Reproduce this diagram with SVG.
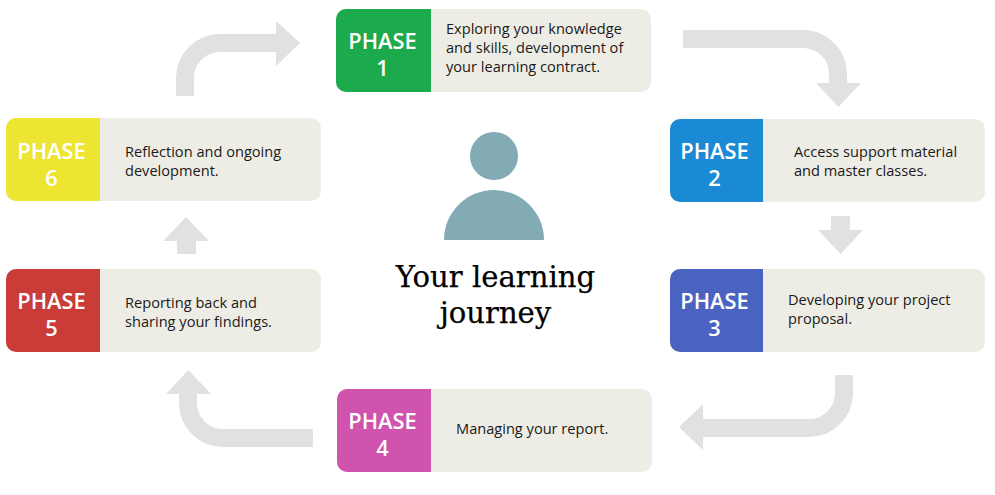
<svg xmlns="http://www.w3.org/2000/svg" width="995" height="495" viewBox="0 0 995 495">
<style>
.panel{fill:#eeede5}
.ph{font-family:"Open Sans","Noto Sans",sans-serif;font-weight:600;font-size:21.8px;fill:#fff;text-anchor:middle}
.body{font-family:"Open Sans","Noto Sans",sans-serif;font-size:14.6px;fill:#1a1a1a}
.title{font-family:"DejaVu Serif",serif;font-size:29.1px;fill:#000;text-anchor:middle;stroke:#000;stroke-width:.25px}
.line{fill:none;stroke:#e1e1e0;stroke-width:18}
.head{fill:#e1e1e0}
.person{fill:#82abb5}
</style>
<rect width="995" height="495" fill="#fff"/>
<g id="connectors">
<path class="line" d="M683 39H803A35 35 0 0 1 838 74V84"/><polygon class="head" points="816,83 861,83 838.500,107"/>
<polygon class="head" points="831,216 850,216 850,230 863,230 840.500,254 818,230 831,230"/>
<path class="line" d="M844 375V393A35 35 0 0 1 809 428H702"/><polygon class="head" points="703,404 703,450 679,427"/>
<path class="line" d="M313 438H223A35 35 0 0 1 188 403V393"/><polygon class="head" points="166,394 211,394 188.500,370"/>
<polygon class="head" points="177,254 196,254 196,241 209,241 186,217 163,241 177,241"/>
<path class="line" d="M185 96V78A35 35 0 0 1 220 43H277"/><polygon class="head" points="276,21 276,66 300,43"/>
</g>
<g id="person"><circle class="person" cx="494" cy="156" r="24"/><path class="person" d="M444 240A50 50 0 0 1 544 240Z"/></g>
<g id="title"><text class="title" x="495.500" y="287">Your learning</text><text class="title" x="495.500" y="323">journey</text></g>
<g id="phase1"><rect class="panel" x="336" y="9" width="315" height="83" rx="10"/><path fill="#1caa4d" d="M431 9V92H346A10 10 0 0 1 336 82V19A10 10 0 0 1 346 9Z"/><text class="ph" x="382.500" y="49">PHASE</text><text class="ph" x="382.500" y="76">1</text><text class="body" x="446" y="34">Exploring your knowledge</text><text class="body" x="446" y="53">and skills, development of</text><text class="body" x="446" y="72">your learning contract.</text></g>
<g id="phase2"><rect class="panel" x="670" y="119" width="315" height="83" rx="10"/><path fill="#1a8ad4" d="M763 119V202H680A10 10 0 0 1 670 192V129A10 10 0 0 1 680 119Z"/><text class="ph" x="714.500" y="159">PHASE</text><text class="ph" x="714.500" y="186">2</text><text class="body" x="794" y="157">Access support material</text><text class="body" x="794" y="176">and master classes.</text></g>
<g id="phase3"><rect class="panel" x="670" y="269" width="315" height="83" rx="10"/><path fill="#4b63c0" d="M763 269V352H680A10 10 0 0 1 670 342V279A10 10 0 0 1 680 269Z"/><text class="ph" x="714.500" y="309">PHASE</text><text class="ph" x="714.500" y="336">3</text><text class="body" x="788" y="305">Developing your project</text><text class="body" x="788" y="324">proposal.</text></g>
<g id="phase4"><rect class="panel" x="337" y="389" width="315" height="83" rx="10"/><path fill="#d053ae" d="M431 389V472H347A10 10 0 0 1 337 462V399A10 10 0 0 1 347 389Z"/><text class="ph" x="382.500" y="429">PHASE</text><text class="ph" x="382.500" y="456">4</text><text class="body" x="456" y="434">Managing your report.</text></g>
<g id="phase5"><rect class="panel" x="6" y="269" width="315" height="83" rx="10"/><path fill="#c93c38" d="M100 269V352H16A10 10 0 0 1 6 342V279A10 10 0 0 1 16 269Z"/><text class="ph" x="51.500" y="309">PHASE</text><text class="ph" x="51.500" y="336">5</text><text class="body" x="125" y="308">Reporting back and</text><text class="body" x="125" y="327">sharing your findings.</text></g>
<g id="phase6"><rect class="panel" x="6" y="118" width="315" height="83" rx="10"/><path fill="#ede531" d="M100 118V201H16A10 10 0 0 1 6 191V128A10 10 0 0 1 16 118Z"/><text class="ph" x="51.500" y="159">PHASE</text><text class="ph" x="51.500" y="186">6</text><text class="body" x="125" y="157">Reflection and ongoing</text><text class="body" x="125" y="176">development.</text></g>
</svg>
